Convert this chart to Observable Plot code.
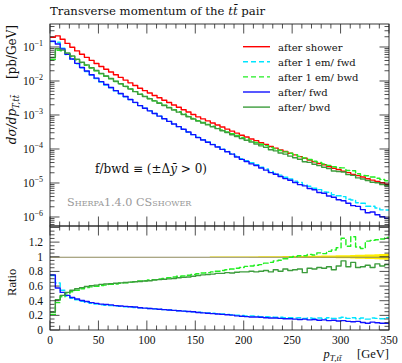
<!DOCTYPE html>
<html><head><meta charset="utf-8">
<script src="https://cdn.jsdelivr.net/npm/d3@7"></script>
<script src="https://cdn.jsdelivr.net/npm/@observablehq/plot@0.6"></script>
<style>
body{margin:0;background:#fff;}
#chart{position:relative;width:402px;height:363px;}
#chart svg{position:absolute;left:0;overflow:visible;}
</style></head><body><div id="chart"></div>
<script>
// ---------------- data ----------------
const binWidth = 5;
const binLow = d3.range(0, 350, binWidth); // 70 bins, 0..345
// reference spectrum "after shower" [pb/GeV]
const afterShower = [
 0.200,0.219,0.174,0.132,0.102,0.0794,0.0631,0.0513,0.0417,0.0339,
 0.0275,0.0229,0.0191,0.0158,0.0132,0.0110,0.00912,0.00759,0.00631,0.00537,
 0.00457,0.00389,0.00331,0.00282,0.00240,0.00204,0.00174,0.00148,0.00126,0.00107,
 9.12e-4,7.94e-4,6.92e-4,6.03e-4,5.25e-4,4.57e-4,3.98e-4,3.47e-4,3.02e-4,2.63e-4,
 2.34e-4,2.04e-4,1.82e-4,1.58e-4,1.41e-4,1.23e-4,1.10e-4,9.77e-5,8.71e-5,7.76e-5,
 6.92e-5,6.17e-5,5.50e-5,4.90e-5,4.37e-5,3.89e-5,3.55e-5,3.16e-5,2.82e-5,2.57e-5,
 2.29e-5,2.09e-5,1.86e-5,1.70e-5,1.55e-5,1.38e-5,1.26e-5,1.15e-5,1.05e-5,9.5e-6
];
// ratios to "after shower"
const ratio1emFwd = [
 0.75,0.65,0.55,0.47,0.44,0.42,0.40,0.385,0.37,0.36,
 0.35,0.345,0.34,0.335,0.33,0.325,0.32,0.315,0.31,0.305,
 0.30,0.295,0.29,0.285,0.28,0.275,0.27,0.265,0.26,0.255,
 0.25,0.245,0.24,0.235,0.23,0.225,0.22,0.215,0.21,0.205,
 0.20,0.20,0.195,0.19,0.19,0.185,0.18,0.18,0.175,0.175,
 0.17,0.175,0.165,0.17,0.165,0.17,0.16,0.175,0.165,0.17,
 0.18,0.165,0.175,0.16,0.17,0.155,0.17,0.165,0.16,0.175
];
const ratio1emBwd = [
 0.22,0.38,0.46,0.50,0.53,0.55,0.57,0.585,0.595,0.605,
 0.615,0.62,0.63,0.635,0.645,0.65,0.66,0.665,0.675,0.68,
 0.69,0.695,0.705,0.71,0.72,0.73,0.74,0.745,0.755,0.765,
 0.775,0.785,0.79,0.80,0.81,0.82,0.83,0.84,0.85,0.86,
 0.875,0.88,0.89,0.90,0.92,0.93,0.95,0.96,0.98,1.00,
 1.01,1.02,1.02,1.04,1.03,1.06,1.05,1.08,1.10,1.13,
 1.26,1.15,1.28,1.14,1.12,1.22,1.23,1.24,1.25,1.27
];
const ratioFwd = [
 0.76,0.58,0.52,0.48,0.45,0.43,0.41,0.395,0.38,0.37,
 0.36,0.355,0.35,0.34,0.335,0.33,0.325,0.32,0.31,0.305,
 0.30,0.295,0.29,0.285,0.28,0.275,0.27,0.265,0.26,0.255,
 0.245,0.24,0.235,0.23,0.225,0.22,0.215,0.21,0.20,0.195,
 0.19,0.185,0.185,0.18,0.175,0.17,0.17,0.165,0.16,0.16,
 0.155,0.15,0.155,0.145,0.15,0.14,0.145,0.135,0.14,0.13,
 0.135,0.125,0.12,0.125,0.11,0.10,0.115,0.105,0.10,0.10
];
const ratioBwd = [
 0.25,0.42,0.48,0.52,0.55,0.57,0.585,0.60,0.61,0.62,
 0.63,0.635,0.64,0.645,0.65,0.655,0.66,0.665,0.67,0.675,
 0.68,0.69,0.695,0.70,0.705,0.71,0.72,0.725,0.73,0.74,
 0.75,0.76,0.765,0.77,0.78,0.78,0.79,0.785,0.795,0.80,
 0.80,0.81,0.80,0.81,0.82,0.80,0.83,0.81,0.84,0.82,
 0.83,0.84,0.79,0.85,0.84,0.86,0.85,0.87,0.83,0.88,
 0.95,0.87,0.93,0.86,0.87,0.89,0.86,0.91,0.88,0.90
];
// half-width of the reference uncertainty band (ratio units)
const bandHalf = [
 0,0,0,0,0,0,0,0,0,0, 0,0,0,0,0,0,0,0,0,0,
 0,0,0,0,0,0,0,0,0,0, 0.001,0.001,0.001,0.002,0.002,0.002,0.003,0.003,0.003,0.004,
 0.004,0.005,0.005,0.006,0.006,0.007,0.008,0.008,0.009,0.010,
 0.010,0.011,0.012,0.013,0.014,0.015,0.016,0.017,0.018,0.019,
 0.020,0.022,0.024,0.026,0.028,0.030,0.032,0.035,0.037,0.040
];
const legendLabels = ["after shower","after 1 em/ fwd","after 1 em/ bwd","after/ fwd","after/ bwd"];
const xTicks = [0,50,100,150,200,250,300,350];
const yTopExps = [-1,-2,-3,-4,-5,-6];
const yRatioTicks = [0,0.2,0.4,0.6,0.8,1,1.2];

// ---------------- styles ----------------
const FONT = "'Liberation Serif', 'DejaVu Serif', serif";
const FONT_W = "'DejaVu Serif', 'Liberation Serif', serif";
const series = [
  {label: legendLabels[0], ratio: null,        color: "#ff0000", dash: null, w: 1.4},
  {label: legendLabels[1], ratio: ratio1emFwd, color: "#00e5ff", dash: "5,3", w: 1.4},
  {label: legendLabels[2], ratio: ratio1emBwd, color: "#22ee22", dash: "5,3", w: 1.4},
  {label: legendLabels[3], ratio: ratioFwd,    color: "#1010ff", dash: null, w: 1.4},
  {label: legendLabels[4], ratio: ratioBwd,    color: "#3c9c3c", dash: null, w: 1.4}
];
function stepPoints(vals) {
  const pts = binLow.map((x, i) => ({x, y: vals[i]}));
  pts.push({x: binLow[binLow.length - 1] + binWidth, y: vals[vals.length - 1]});
  return pts;
}
const topVals = series.map(s => s.ratio ? afterShower.map((v, i) => v * s.ratio[i]) : afterShower);
const ratioVals = series.map(s => s.ratio ? s.ratio : afterShower.map(() => 1));

// ---------------- frame / ticks helper ----------------
function frameMark(opts) {
  return (index, scales, values, dims) => {
    const {x, y} = scales;
    const L = dims.marginLeft, R = dims.width - dims.marginRight;
    const T = dims.marginTop, B = dims.height - dims.marginBottom;
    const g = d3.create("svg:g");
    let p = "";
    const MJ = 9.5, MN = 4.5;
    for (let v = 0; v <= 350; v += 10) {
      const px = x(v), len = v % 50 === 0 ? MJ : MN;
      if (opts.topTicks) p += `M${px},${T}v${len}`;
      if (opts.bottomTicks) p += `M${px},${B}v${-len}`;
    }
    for (const [v, major] of opts.yTicks) {
      const py = y(v); if (py < T - 0.1 || py > B + 0.1) continue;
      const len = major ? MJ : MN;
      p += `M${L},${py}h${len}M${R},${py}h${-len}`;
    }
    g.append("path").attr("d", p).attr("stroke", "#222").attr("stroke-width", 0.8).attr("fill", "none");
    g.append("rect").attr("x", L).attr("y", T).attr("width", R - L).attr("height", B - T)
      .attr("fill", "none").attr("stroke", "#222").attr("stroke-width", 0.9);
    return g.node();
  };
}

// ---------------- top panel ----------------
const yLogTicks = [];
for (let e = -7; e <= 0; e++) for (let m = 1; m <= 9; m++) yLogTicks.push([m * Math.pow(10, e), m === 1]);

const topLabels = (index, {x, y}, values, dims) => {
  const g = d3.create("svg:g").attr("font-family", FONT_W).attr("fill", "#111").attr("text-anchor", "start");
  const L = dims.marginLeft;
  for (const e of yTopExps) {
    const t = g.append("text").attr("x", L - 7).attr("y", y(Math.pow(10, e)) + 4)
      .attr("text-anchor", "end").attr("font-size", 11.5).attr("font-family", FONT);
    t.append("tspan").text("10");
    t.append("tspan").attr("dy", -5).attr("font-size", 8).text("\u2212" + (-e));
  }
  // title
  const ti = g.append("text").attr("x", L).attr("y", 15).attr("font-size", 11.7);
  ti.append("tspan").text("Transverse momentum of the ");
  ti.append("tspan").attr("font-style", "italic").text("t\u0074\u0304");
  ti.append("tspan").text(" pair");
  // y label
  const yl = g.append("text").attr("transform", `translate(16,25) rotate(-90)`)
    .attr("text-anchor", "end").attr("font-size", 12);
  yl.append("tspan").attr("font-style", "italic").text("d\u03c3/dp");
  yl.append("tspan").attr("font-style", "italic").attr("font-size", 8.5).attr("dy", 3).text("T,t\u0074\u0304");
  yl.append("tspan").attr("dy", -3).text("\u2003 [pb/GeV]");
  // legend
  series.forEach((s, i) => {
    const yy = 46.7 + i * 15.1;
    g.append("line").attr("x1", 243).attr("x2", 270).attr("y1", yy).attr("y2", yy)
      .attr("stroke", s.color).attr("stroke-width", s.w).attr("stroke-dasharray", s.dash);
    g.append("text").attr("x", 278).attr("y", yy + 3.8).attr("font-size", 10).text(s.label);
  });
  // annotations
  const an = g.append("text").attr("x", 95).attr("y", 173).attr("font-size", 12);
  an.append("tspan").text("f/bwd \u2261 (\u00b1\u0394");
  an.append("tspan").attr("font-style", "italic").text("\u0233");
  an.append("tspan").text(" > 0)");
  g.append("text").attr("x", 67).attr("y", 206).attr("font-size", 11.2).attr("fill", "#9a9a9a")
    .attr("font-variant", "small-caps").text("Sherpa1.4.0 CSshower");
  return g.node();
};

const topPlot = Plot.plot({
  width: 402, height: 226,
  marginTop: 24, marginBottom: 0, marginLeft: 50, marginRight: 13,
  x: {domain: [0, 350], axis: null},
  y: {type: "log", domain: [Math.pow(10, -6.265), Math.pow(10, -0.324)], axis: null},
  marks: [
    ...series.map((s, i) => Plot.line(stepPoints(topVals[i]), {
      x: "x", y: "y", curve: "step-after", stroke: s.color, strokeWidth: s.w,
      strokeDasharray: s.dash, clip: true
    })),
    frameMark({topTicks: true, bottomTicks: true, yTicks: yLogTicks}),
    topLabels
  ]
});
topPlot.style.top = "0px";

// ---------------- ratio panel ----------------
const yRatioMinor = [];
for (let k = 0; k <= 28; k++) yRatioMinor.push([k * 0.05, k % 4 === 0]);

const ratioLabels = (index, {x, y}, values, dims) => {
  const g = d3.create("svg:g").attr("font-family", FONT).attr("fill", "#111").attr("font-size", 11.5).attr("text-anchor", "start");
  const L = dims.marginLeft, B = dims.height - dims.marginBottom;
  for (const v of yRatioTicks) {
    g.append("text").attr("x", L - 7).attr("y", y(v) + 4).attr("text-anchor", "end").text(String(v));
  }
  for (const v of xTicks) {
    g.append("text").attr("x", x(v)).attr("y", B + 14).attr("text-anchor", "middle").text(String(v));
  }
  g.append("text").attr("transform", `translate(16,${y(0.65)}) rotate(-90)`).attr("text-anchor", "middle")
    .attr("font-size", 12.5).text("Ratio");
  const xl = g.append("text").attr("x", dims.width - dims.marginRight).attr("y", B + 28)
    .attr("text-anchor", "end").attr("font-size", 12.5);
  xl.append("tspan").attr("font-style", "italic").text("p");
  xl.append("tspan").attr("font-style", "italic").attr("font-size", 9).attr("dy", 3).text("T,t\u0074\u0304");
  xl.append("tspan").attr("dy", -3).text("\u2003 [GeV]");
  return g.node();
};

const bandPts = binLow.map((x, i) => ({x, lo: 1 - bandHalf[i], hi: 1 + bandHalf[i]}));
bandPts.push({x: 350, lo: 1 - bandHalf[69], hi: 1 + bandHalf[69]});

const ratioPlot = Plot.plot({
  width: 402, height: 137,
  marginTop: 0, marginBottom: 33, marginLeft: 50, marginRight: 13,
  x: {domain: [0, 350], axis: null},
  y: {domain: [0, 1.42], axis: null},
  marks: [
    Plot.areaY(bandPts, {x: "x", y1: "lo", y2: "hi", curve: "step-after", fill: "#ffee00"}),
    Plot.line(stepPoints(ratioVals[0]), {x: "x", y: "y", curve: "step-after", stroke: "#8f8a5e", strokeWidth: 1.2}),
    ...series.slice(1).map((s, j) => Plot.line(stepPoints(ratioVals[j + 1]), {
      x: "x", y: "y", curve: "step-after", stroke: s.color, strokeWidth: s.w,
      strokeDasharray: s.dash, clip: true
    })),
    frameMark({topTicks: true, bottomTicks: true, yTicks: yRatioMinor}),
    ratioLabels
  ]
});
ratioPlot.style.top = "226px";

const chart = document.getElementById("chart");
chart.appendChild(topPlot);
chart.appendChild(ratioPlot);
</script></body></html>
